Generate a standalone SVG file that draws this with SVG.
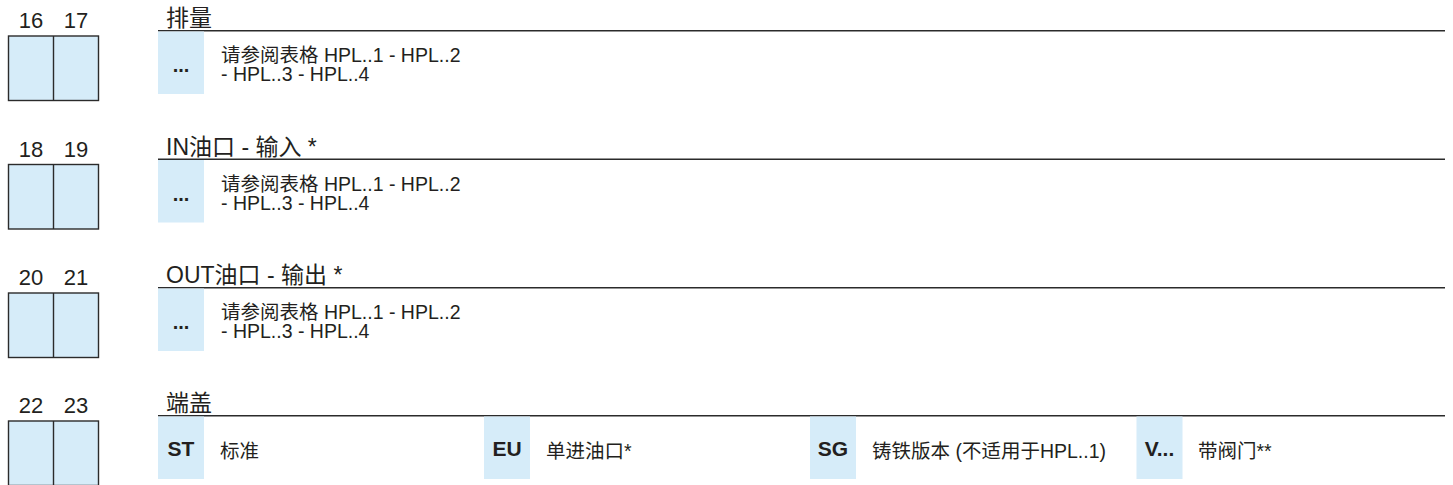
<svg xmlns="http://www.w3.org/2000/svg" width="1453" height="485" viewBox="0 0 1453 485">
<style>
text{font-family:"Liberation Sans","Noto Sans CJK SC",sans-serif;fill:#231f20}
.num{font-size:22px;text-anchor:middle}
.head{font-size:23px}
.body{font-size:19.5px}
.code{font-size:21px;font-weight:bold;text-anchor:middle}
.dots{font-size:20px;font-weight:bold;text-anchor:middle}
.cell{fill:#d6ecf9;stroke:#2b2b2b;stroke-width:1.4}
.opt{fill:#d6ecf9}
.rule{stroke:#2b2b2b;stroke-width:1.5}
</style>
<defs>
<g id="cells">
<rect class="cell" x="8.5" y="36" width="90" height="64.5"/>
<line x1="53.5" y1="36" x2="53.5" y2="100.5" stroke="#2b2b2b" stroke-width="1.4"/>
</g>
</defs>
<g id="section-16-17">
<text class="num" x="31" y="28">16</text>
<text class="num" x="76" y="28">17</text>
<use href="#cells"/>
<text class="head" x="166" y="26">排量</text>
<line class="rule" x1="158" y1="30.7" x2="1445" y2="30.7"/>
<rect class="opt" x="158" y="31.5" width="46" height="62.5"/>
<text class="dots" x="181" y="72">...</text>
<text class="body" x="221" y="62">请参阅表格 HPL..1 - HPL..2</text>
<text class="body" x="221" y="81">- HPL..3 - HPL..4</text>
</g>
<g id="section-18-19" transform="translate(0,128.5)">
<text class="num" x="31" y="28">18</text>
<text class="num" x="76" y="28">19</text>
<use href="#cells"/>
<text class="head" x="166" y="26">IN油口 - 输入 *</text>
<line class="rule" x1="158" y1="30.7" x2="1445" y2="30.7"/>
<rect class="opt" x="158" y="31.5" width="46" height="62.5"/>
<text class="dots" x="181" y="72">...</text>
<text class="body" x="221" y="62">请参阅表格 HPL..1 - HPL..2</text>
<text class="body" x="221" y="81">- HPL..3 - HPL..4</text>
</g>
<g id="section-20-21" transform="translate(0,257)">
<text class="num" x="31" y="28">20</text>
<text class="num" x="76" y="28">21</text>
<use href="#cells"/>
<text class="head" x="166" y="26">OUT油口 - 输出 *</text>
<line class="rule" x1="158" y1="30.7" x2="1445" y2="30.7"/>
<rect class="opt" x="158" y="31.5" width="46" height="62.5"/>
<text class="dots" x="181" y="72">...</text>
<text class="body" x="221" y="62">请参阅表格 HPL..1 - HPL..2</text>
<text class="body" x="221" y="81">- HPL..3 - HPL..4</text>
</g>
<g id="section-22-23" transform="translate(0,385)">
<text class="num" x="31" y="28">22</text>
<text class="num" x="76" y="28">23</text>
<use href="#cells"/>
<text class="head" x="166" y="26">端盖</text>
<line class="rule" x1="158" y1="30.7" x2="1445" y2="30.7"/>
<g id="opt-ST">
<rect class="opt" x="158" y="31.5" width="46" height="62.5"/>
<text class="code" x="181" y="70.5">ST</text>
<text class="body" x="220" y="73">标准</text>
</g>
<g id="opt-EU">
<rect class="opt" x="484" y="31.5" width="46" height="62.5"/>
<text class="code" x="507" y="70.5">EU</text>
<text class="body" x="546" y="73">单进油口*</text>
</g>
<g id="opt-SG">
<rect class="opt" x="810" y="31.5" width="46" height="62.5"/>
<text class="code" x="833" y="70.5">SG</text>
<text class="body" x="872" y="73">铸铁版本 (不适用于HPL..1)</text>
</g>
<g id="opt-V">
<rect class="opt" x="1136.5" y="31.5" width="46" height="62.5"/>
<text class="code" x="1159.5" y="70.5">V...</text>
<text class="body" x="1198" y="73">带阀门**</text>
</g>
</g>
</svg>
